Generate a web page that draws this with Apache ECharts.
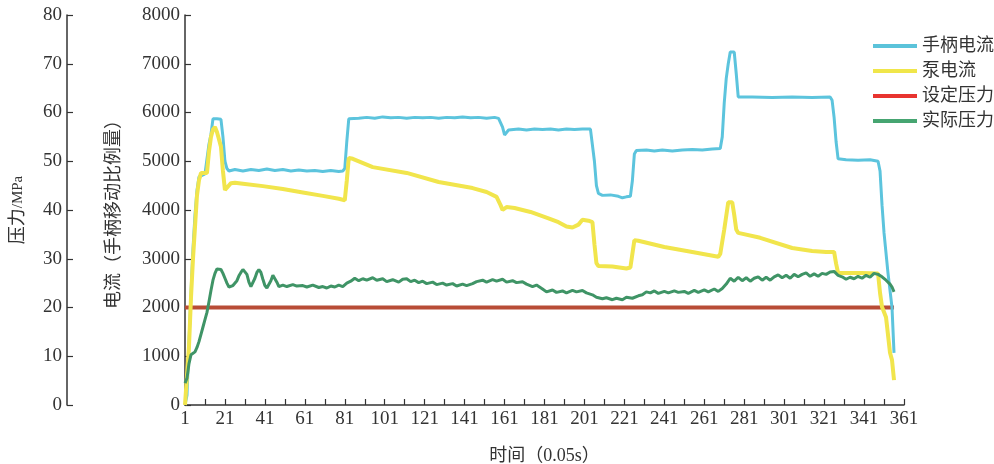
<!DOCTYPE html>
<html>
<head>
<meta charset="utf-8">
<script src="https://cdn.jsdelivr.net/npm/echarts@6/dist/echarts.min.js"></script>
<style>html,body{margin:0;padding:0;background:#fff}#c{width:994px;height:464px}</style>
</head>
<body>
<div id="c"></div>
<script>
// time steps (category labels 1..361)
var timeLabels = [];
for (var i = 1; i <= 361; i++) timeLabels.push(String(i));

var seriesNames = ['手柄电流', '泵电流', '设定压力', '实际压力'];

// 手柄电流 [t, value]
var handleCurrent = [[1,0],[2,200],[3,1300],[4,2300],[5,3200],[6,3900],[7,4400],[8,4680],[9,4720],[11,4740],[12,4760],[13,5350],[14,5550],[15,5870],[17,5870],[19,5860],[20,5500],[21,5000],[22,4850],[23,4800],[26,4830],[30,4800],[34,4830],[38,4810],[42,4840],[46,4810],[50,4830],[54,4800],[58,4820],[62,4800],[66,4810],[70,4790],[74,4810],[78,4790],[80,4800],[81,4850],[82,5400],[83,5870],[84,5900],[88,5880],[92,5900],[96,5880],[100,5910],[104,5890],[108,5900],[112,5880],[116,5900],[120,5890],[124,5900],[128,5880],[132,5900],[136,5890],[140,5910],[144,5890],[148,5900],[152,5880],[156,5900],[158,5880],[159,5850],[160,5700],[161,5540],[162,5580],[163,5640],[168,5660],[172,5640],[176,5660],[180,5650],[184,5660],[188,5640],[192,5660],[196,5650],[200,5660],[204,5660],[205,5620],[206,5000],[207,4500],[208,4340],[210,4300],[214,4310],[218,4280],[220,4250],[222,4270],[224,4280],[225,4600],[226,5150],[227,5220],[232,5230],[236,5210],[240,5230],[245,5210],[250,5230],[255,5240],[260,5230],[265,5250],[269,5260],[270,5500],[271,6200],[272,6700],[273,7000],[274,7240],[276,7240],[277,6800],[278,6320],[285,6320],[295,6310],[305,6320],[315,6310],[324,6320],[325,6250],[326,5900],[327,5400],[328,5050],[332,5030],[338,5020],[344,5030],[348,5000],[349,4800],[350,4100],[351,3530],[353,2700],[355,2000],[356,1070]];

// 泵电流 [t, value]
var pumpCurrent = [[1,0],[2,40],[3,1200],[4,2200],[5,3000],[6,3650],[7,4300],[8,4610],[9,4760],[12,4760],[13,5200],[14,5500],[15,5650],[16,5700],[17,5600],[18,5450],[19,5300],[20,4800],[21,4410],[22,4450],[24,4550],[26,4560],[30,4540],[40,4490],[50,4430],[60,4360],[70,4290],[78,4230],[81,4200],[82,4600],[83,5070],[85,5050],[95,4880],[112,4760],[128,4575],[145,4450],[152,4370],[157,4270],[159,4100],[160,4000],[162,4060],[166,4040],[174,3960],[183,3830],[188,3750],[192,3660],[195,3640],[198,3700],[200,3800],[203,3780],[205,3750],[206,3300],[207,2910],[208,2850],[215,2840],[222,2800],[224,2820],[225,3100],[226,3380],[228,3370],[241,3240],[255,3140],[268,3040],[269,3100],[271,3600],[273,4160],[275,4160],[276,3900],[277,3600],[278,3530],[289,3430],[305,3220],[315,3160],[322,3140],[326,3140],[327,2900],[328,2710],[340,2710],[348,2700],[349,2300],[350,2010],[352,1800],[354,1070],[355,920],[356,510]];

// 设定压力 [t, MPa]
var setPressure = [[1,20],[356,20]];

// 实际压力 [t, MPa]
var actualPressure = [[1,4.5],[2,5.5],[3,8.5],[4,10.3],[5,10.5],[6,10.9],[7,11.8],[8,13.0],[9,14.5],[10,16.0],[11,17.5],[12,19.0],[13,21.2],[14,23.5],[15,25.6],[16,27.0],[17,27.9],[18,28.1],[19,27.8],[20,27.0],[21,26.0],[22,25.0],[23,24.2],[24,24.0],[25,24.5],[26,24.3],[27,25.5],[28,26.5],[29,27.2],[30,27.8],[31,27.3],[32,26.8],[33,25.2],[34,24.3],[35,24.6],[36,26.0],[37,27.2],[38,27.8],[39,27.2],[40,25.8],[41,24.5],[42,24.0],[43,24.3],[44,25.5],[45,26.6],[46,26.7],[47,25.2],[48,24.3],[50,24.6],[52,24.3],[55,24.7],[57,24.4],[60,24.5],[62,24.2],[65,24.6],[68,24.1],[70,24.3],[72,24.0],[74,24.4],[76,24.2],[78,24.6],[80,24.3],[82,25.0],[84,25.4],[86,26.0],[88,25.5],[90,25.9],[92,25.6],[95,26.1],[97,25.6],[100,25.9],[102,25.3],[105,25.7],[108,25.2],[110,25.8],[112,25.9],[114,25.3],[116,25.6],[118,25.1],[120,25.4],[122,24.9],[125,25.2],[127,24.7],[130,25.0],[132,24.6],[135,24.9],[137,24.4],[140,24.8],[142,24.5],[145,24.9],[147,25.3],[150,25.6],[152,25.2],[155,25.7],[157,25.4],[160,25.8],[162,25.2],[165,25.5],[167,25.1],[170,25.3],[172,24.8],[175,24.3],[177,24.6],[180,23.8],[182,23.2],[185,23.6],[187,23.1],[190,23.4],[192,23.0],[195,23.5],[197,23.2],[200,23.5],[202,23.0],[205,22.6],[207,22.1],[210,21.8],[212,22.0],[215,21.6],[217,21.9],[220,21.6],[222,22.1],[225,21.9],[228,22.4],[230,22.6],[232,23.2],[234,23.0],[236,23.4],[238,22.9],[241,23.3],[243,23.0],[246,23.4],[248,23.1],[251,23.3],[253,22.9],[256,23.5],[258,23.1],[261,23.6],[263,23.2],[266,23.8],[268,23.3],[270,23.9],[272,24.8],[274,26.0],[276,25.4],[278,26.2],[280,25.5],[282,26.1],[284,25.4],[286,26.0],[288,26.3],[290,25.6],[292,26.2],[294,25.6],[296,26.3],[298,26.7],[300,26.1],[302,26.6],[304,26.0],[306,26.8],[308,26.3],[310,26.8],[312,27.1],[314,26.4],[316,26.9],[318,26.4],[320,27.0],[322,26.8],[324,27.3],[325,27.7],[326,27.4],[328,26.6],[330,26.3],[332,25.8],[334,26.2],[336,25.9],[338,26.4],[340,26.0],[342,26.6],[344,26.2],[346,27.0],[348,26.8],[350,26.3],[352,25.6],[354,24.8],[355,24.2],[356,23.2]];

function toIdx(arr) { return arr.map(function (p) { return [p[0] - 1, p[1]]; }); }
function plain(v) { return String(v); }

var FONT = '"Liberation Serif", "Noto Sans CJK SC", serif';
var axisColor = '#333';

var chart = echarts.init(document.getElementById('c'), null, { renderer: 'canvas' });
chart.setOption({
  animation: false,
  backgroundColor: '#fff',
  grid: { left: 185, right: 90, top: 15, bottom: 59, containLabel: false, outerBoundsMode: 'none' },
  legend: {
    orient: 'vertical', left: 868, top: 31,
    icon: 'rect', itemWidth: 44, itemHeight: 4, itemGap: 5,
    textStyle: { fontSize: 18, fontFamily: FONT, color: '#333', lineHeight: 20 },
    data: [
      { name: seriesNames[0], itemStyle: { color: '#5BC3DA' } },
      { name: seriesNames[1], itemStyle: { color: '#F0E64A' } },
      { name: seriesNames[2], itemStyle: { color: '#E8342F' } },
      { name: seriesNames[3], itemStyle: { color: '#46A571' } }
    ]
  },
  xAxis: {
    type: 'category', data: timeLabels, boundaryGap: false,
    name: '时间（0.05s）', nameLocation: 'middle', nameGap: 42,
    nameTextStyle: { fontSize: 18, fontFamily: FONT, color: '#333' },
    axisLine: { show: true, lineStyle: { color: axisColor, width: 1.5 } },
    axisTick: { show: true, inside: true, length: 6, interval: 9, lineStyle: { color: axisColor, width: 1.2 } },
    axisLabel: { interval: 19, margin: 5, fontSize: 19, fontFamily: FONT, color: '#333' },
    splitLine: { show: false }
  },
  yAxis: [
    {
      type: 'value', position: 'left', min: 0, max: 8000, interval: 1000,
      name: '电流（手柄移动比例量）', nameLocation: 'middle', nameGap: 62, nameRotate: 90,
      nameTextStyle: { fontSize: 18, fontFamily: FONT, color: '#333' },
      axisLine: { show: true, lineStyle: { color: axisColor, width: 1.5 } },
      axisTick: { show: true, inside: true, length: 6, lineStyle: { color: axisColor, width: 1.2 } },
      axisLabel: { margin: 5, fontSize: 19, fontFamily: FONT, color: '#333', formatter: plain },
      splitLine: { show: false }
    },
    {
      type: 'value', position: 'left', offset: 118, min: 0, max: 80, interval: 10,
      name: '{a|压力}{b|/MPa}', nameLocation: 'middle', nameGap: 40, nameRotate: 90,
      nameTextStyle: { fontSize: 18, fontFamily: FONT, color: '#333',
        rich: { a: { fontSize: 18, fontFamily: FONT, color: '#333' }, b: { fontSize: 15, fontFamily: FONT, color: '#333' } } },
      axisLine: { show: true, lineStyle: { color: axisColor, width: 1.5 } },
      axisTick: { show: true, inside: true, length: 6, lineStyle: { color: axisColor, width: 1.2 } },
      axisLabel: { margin: 5, fontSize: 19, fontFamily: FONT, color: '#333', formatter: plain },
      splitLine: { show: false }
    }
  ],
  series: [
    { name: seriesNames[2], type: 'line', yAxisIndex: 1, data: toIdx(setPressure), showSymbol: false,
      lineStyle: { color: '#B84C36', width: 4 }, itemStyle: { color: '#E8342F' } },
    { name: seriesNames[0], type: 'line', yAxisIndex: 0, data: toIdx(handleCurrent), showSymbol: false,
      lineStyle: { color: '#5CC4DD', width: 3 }, itemStyle: { color: '#5BC3DA' } },
    { name: seriesNames[1], type: 'line', yAxisIndex: 0, data: toIdx(pumpCurrent), showSymbol: false,
      lineStyle: { color: '#F1E54C', width: 4 }, itemStyle: { color: '#F0E64A' } },
    { name: seriesNames[3], type: 'line', yAxisIndex: 1, data: toIdx(actualPressure), showSymbol: false,
      lineStyle: { color: '#3F9466', width: 3 }, itemStyle: { color: '#46A571' } }
  ]
});
</script>
</body>
</html>
